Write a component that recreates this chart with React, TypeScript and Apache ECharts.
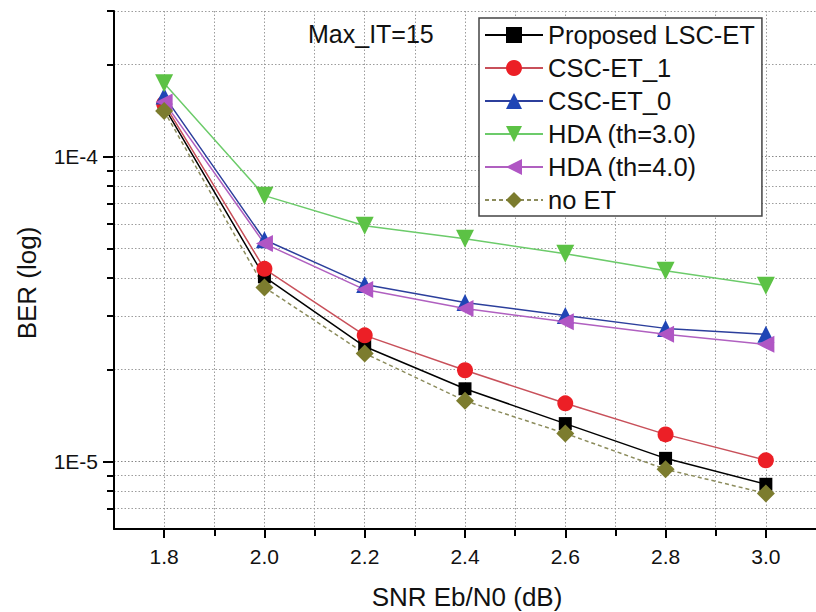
import React, { useEffect, useRef } from "react";
import * as echarts from "echarts";

// SNR points (dB)
const snr = [1.8, 2.0, 2.2, 2.4, 2.6, 2.8, 3.0];

// BER per early-termination scheme
const proposedLscEt = [1.455e-4, 4.03e-5, 2.38e-5, 1.73e-5, 1.33e-5, 1.023e-5, 8.41e-6];
const cscEt1 = [1.49e-4, 4.28e-5, 2.59e-5, 1.99e-5, 1.55e-5, 1.226e-5, 1.008e-5];
const cscEt0 = [1.58e-4, 5.33e-5, 3.8e-5, 3.32e-5, 3.01e-5, 2.73e-5, 2.61e-5];
const hdaTh3 = [1.74e-4, 7.44e-5, 5.93e-5, 5.37e-5, 4.8e-5, 4.22e-5, 3.77e-5];
const hdaTh4 = [1.51e-4, 5.18e-5, 3.66e-5, 3.17e-5, 2.87e-5, 2.61e-5, 2.42e-5];
const noEt = [1.41e-4, 3.72e-5, 2.26e-5, 1.58e-5, 1.235e-5, 9.42e-6, 7.85e-6];

// Axis ticks
const xMajorTicks = [1.8, 2.0, 2.2, 2.4, 2.6, 2.8, 3.0];
const xMinorTicks = [1.9, 2.1, 2.3, 2.5, 2.7, 2.9];
const yMajorTicks = [1e-5, 1e-4];
const yMinorTicks = [7e-6, 8e-6, 9e-6, 2e-5, 3e-5, 4e-5, 5e-5, 6e-5, 7e-5, 8e-5, 9e-5, 2e-4, 2.9999e-4];

const FONT = "'Liberation Sans', Arial, sans-serif";
const X_MIN = 1.7;
const X_MAX = 3.1;
const Y_MIN = 6e-6;
const Y_MAX = 3e-4;

const gridLine = { color: "#9c9c9c", width: 1, type: [1.5, 2] as number[] };

function pairs(values: number[]) {
  return snr.map((x, i) => [x, values[i]]);
}

export default function App() {
  const ref = useRef<HTMLDivElement>(null);

  useEffect(() => {
    const chart = echarts.init(ref.current!, null, { renderer: "svg" });

    const lineSeries = (
      name: string,
      values: number[],
      color: string,
      symbol: string,
      symbolSize: number,
      symbolRotate = 0,
      lineColor = color,
      dashed = false
    ) => ({
      name,
      type: "line",
      xAxisIndex: 0,
      yAxisIndex: 0,
      data: pairs(values),
      symbol,
      symbolSize,
      symbolRotate,
      itemStyle: { color },
      lineStyle: { color: lineColor, width: 1.5, type: dashed ? [4, 3] : "solid" },
      emphasis: { disabled: true },
    });

    chart.setOption({
      animation: false,
      backgroundColor: "#fff",
      textStyle: { fontFamily: FONT },
      title: {
        text: "Max_IT=15",
        left: 303,
        top: 16,
        textStyle: { fontFamily: FONT, fontSize: 25, fontWeight: "normal", color: "#111" },
      },
      grid: { left: 114, top: 11, width: 706, height: 518, containLabel: false },
      legend: {
        orient: "vertical",
        left: 479,
        top: 18,
        itemWidth: 58,
        itemHeight: 20,
        itemGap: 7,
        padding: [4, 7, 3, 5],
        borderColor: "#444",
        borderWidth: 1.5,
        backgroundColor: "#fff",
        textStyle: { fontFamily: FONT, fontSize: 25.5, color: "#111", lineHeight: 25 },
      },
      xAxis: [
        {
          type: "value",
          min: X_MIN,
          max: X_MAX,
          position: "bottom",
          axisLine: { show: true, onZero: false, lineStyle: { color: "#000", width: 2 } },
          axisTick: { show: true, inside: false, length: 9, customValues: xMajorTicks, lineStyle: { color: "#000", width: 2 } },
          axisLabel: {
            customValues: xMajorTicks,
            margin: 17,
            fontSize: 21,
            fontFamily: FONT,
            color: "#111",
            formatter: (v: number) => v.toFixed(1),
          },
          splitLine: { show: true, lineStyle: gridLine },
        },
        {
          type: "value",
          min: X_MIN,
          max: X_MAX,
          position: "bottom",
          axisLine: { show: false },
          axisTick: { show: true, inside: false, length: 7, customValues: xMinorTicks, lineStyle: { color: "#000", width: 2 } },
          axisLabel: { show: false },
          splitLine: { show: true, lineStyle: gridLine },
        },
      ],
      yAxis: [
        {
          type: "log",
          logBase: 10,
          min: Y_MIN,
          max: Y_MAX,
          position: "left",
          axisLine: { show: true, onZero: false, lineStyle: { color: "#000", width: 2 } },
          axisTick: { show: true, inside: false, length: 11, customValues: yMajorTicks, lineStyle: { color: "#000", width: 2 } },
          axisLabel: {
            customValues: yMajorTicks,
            margin: 16,
            fontSize: 21,
            fontFamily: FONT,
            color: "#111",
            formatter: (v: number) => `1E${Math.round(Math.log10(v))}`,
          },
          splitLine: { show: true, lineStyle: { ...gridLine, color: "#888" } },
        },
        {
          type: "log",
          logBase: 10,
          min: Y_MIN,
          max: Y_MAX,
          position: "left",
          axisLine: { show: false },
          axisTick: { show: true, inside: false, length: 7, customValues: yMinorTicks, lineStyle: { color: "#000", width: 2 } },
          axisLabel: { show: false },
          splitLine: { show: true, lineStyle: gridLine },
        },
      ],
      graphic: [
        {
          type: "text",
          x: 467,
          y: 597,
          style: {
            text: "SNR Eb/N0 (dB)",
            font: `26px ${FONT}`,
            fill: "#111",
            align: "center",
            verticalAlign: "middle",
          },
        },
        {
          type: "text",
          x: 27,
          y: 283,
          rotation: Math.PI / 2,
          style: {
            text: "BER (log)",
            font: `26px ${FONT}`,
            fill: "#111",
            align: "center",
            verticalAlign: "middle",
          },
        },
      ],
      series: [
        lineSeries("Proposed LSC-ET", proposedLscEt, "#000000", "rect", 13),
        lineSeries("CSC-ET_1", cscEt1, "#ec1f26", "circle", 16, 0, "#c8505a"),
        lineSeries("CSC-ET_0", cscEt0, "#1f45b5", "triangle", 17, 0, "#2c3f9c"),
        lineSeries("HDA (th=3.0)", hdaTh3, "#5cc245", "triangle", 18, 180, "#6ccb6a"),
        lineSeries("HDA (th=4.0)", hdaTh4, "#b056c4", "triangle", 17, 90, "#b060c0"),
        lineSeries("no ET", noEt, "#7c7c2e", "diamond", 18, 0, "#8c8c5c", true),
      ],
    });

    return () => chart.dispose();
  }, []);

  return (
    <div
      ref={ref}
      style={{ position: "fixed", left: 0, top: 0, width: 816, height: 612, background: "#fff" }}
    />
  );
}
